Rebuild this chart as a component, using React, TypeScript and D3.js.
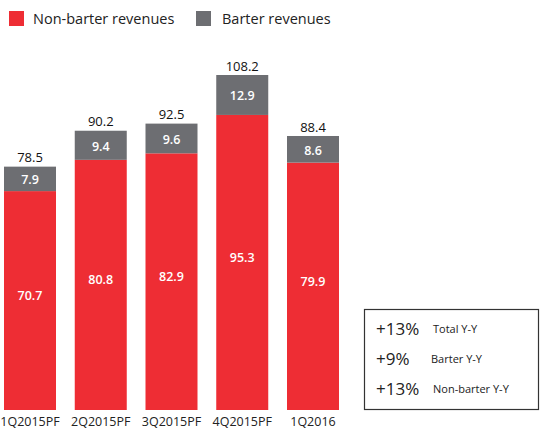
import React from "react";
import * as d3 from "d3";

const categories = ["1Q2015PF", "2Q2015PF", "3Q2015PF", "4Q2015PF", "1Q2016"];
const nonBarter = [70.7, 80.8, 82.9, 95.3, 79.9];
const barter = [7.9, 9.4, 9.6, 12.9, 8.6];
const totals = [78.5, 90.2, 92.5, 108.2, 88.4];
const seriesNames = ["Non-barter revenues", "Barter revenues"];
const boxPct = ["+13%", "+9%", "+13%"];
const boxLabels = ["Total Y-Y", "Barter Y-Y", "Non-barter Y-Y"];

const RED = "#EE2D34";
const GREY = "#6D6E72";
const TEXT = "#222";
const FONT = "'Open Sans', 'Noto Sans', sans-serif";

export default function App() {
  const W = 540, H = 430;
  const x = d3.scaleBand<string>().domain(categories).range([4, 339]).paddingInner(0.265).paddingOuter(0);
  const y = d3.scaleLinear().domain([0, d3.max(totals)!]).range([410, 75]);
  const bw = x.bandwidth();

  return (
    <svg width={W} height={H} style={{ position: "absolute", left: 0, top: 0, fontFamily: FONT }}>
      <rect width={W} height={H} fill="#fff" />
      {/* legend */}
      <rect x={9} y={11} width={15} height={15} fill={RED} />
      <text x={33} y={23.5} fontSize={14.5} fill={TEXT}>{seriesNames[0]}</text>
      <rect x={196} y={11} width={15} height={15} fill={GREY} />
      <text x={222} y={23.5} fontSize={14.5} fill={TEXT}>{seriesNames[1]}</text>

      {categories.map((c, i) => {
        const x0 = x(c)!;
        const cx = x0 + bw / 2;
        const yRedTop = y(nonBarter[i]);
        const yTop = y(nonBarter[i] + barter[i]);
        return (
          <g key={c}>
            <rect x={x0} y={yRedTop} width={bw} height={y(0) - yRedTop} fill={RED} />
            <rect x={x0} y={yTop} width={bw} height={yRedTop - yTop} fill={GREY} />
            <text x={cx} y={(yRedTop + y(0)) / 2 - 5} dy="0.35em" textAnchor="middle" fontSize={12.5} fontWeight={600} fill="#fff">
              {nonBarter[i].toFixed(1)}
            </text>
            <text x={cx} y={(yTop + yRedTop) / 2 + 1} dy="0.35em" textAnchor="middle" fontSize={12.5} fontWeight={600} fill="#fff">
              {barter[i].toFixed(1)}
            </text>
            <text x={cx} y={yTop - 9} dy="0.35em" textAnchor="middle" fontSize={13} fill="#111">
              {totals[i].toFixed(1)}
            </text>
            <text x={cx} y={422} dy="0.35em" textAnchor="middle" fontSize={12.5} fill={TEXT}>
              {c}
            </text>
          </g>
        );
      })}

      {/* Y-Y box */}
      <rect x={364.5} y={309.5} width={174} height={100} fill="none" stroke="#333" strokeWidth={1.2} />
      {boxPct.map((p, i) => (
        <g key={i}>
          <text x={376} y={329 + i * 30} dy="0.35em" fontSize={17} fill={TEXT}>{p}</text>
          <text x={i === 1 ? 431 : 433} y={329 + i * 30} dy="0.35em" fontSize={11} fill={TEXT}>{boxLabels[i]}</text>
        </g>
      ))}
    </svg>
  );
}
